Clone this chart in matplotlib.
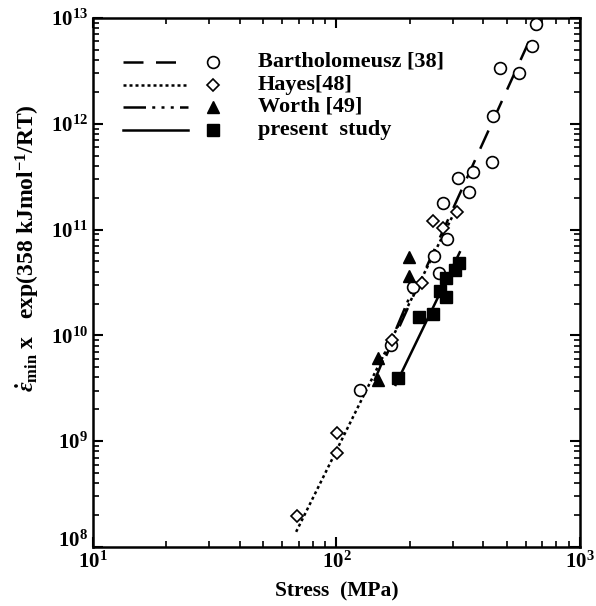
import matplotlib
matplotlib.use("Agg")
import matplotlib.pyplot as plt
from matplotlib.ticker import LogLocator, NullFormatter
from matplotlib.transforms import ScaledTranslation

plt.rcParams['font.family'] = ['Liberation Serif', 'DejaVu Serif']
plt.rcParams['font.weight'] = 'bold'
plt.rcParams['mathtext.fontset'] = 'custom'
plt.rcParams['mathtext.rm'] = 'Liberation Serif:bold'
plt.rcParams['mathtext.it'] = 'Liberation Serif:italic:bold'
plt.rcParams['mathtext.bf'] = 'Liberation Serif:bold'

# ---- data ----
barth_x = [659, 635, 469, 561, 440, 436, 364, 316, 350, 274, 284, 251, 264, 206, 167, 125]
barth_y = [8.8e12, 5.4e12, 3.4e12, 3.0e12, 1.19e12, 4.35e11, 3.5e11, 3.1e11, 2.27e11,
           1.78e11, 8.1e10, 5.6e10, 3.9e10, 2.87e10, 8.1e9, 3.05e9]
hayes_x = [313, 249, 274, 224, 169, 101, 101, 68.9]
hayes_y = [1.47e11, 1.21e11, 1.03e11, 3.13e10, 9.1e9, 1.2e9, 7.7e8, 1.97e8]
worth_x = [199, 199, 148, 148]
worth_y = [5.5e10, 3.64e10, 6.1e9, 3.8e9]
present_x = [318, 307, 282, 266, 282, 249, 218, 179]
present_y = [4.83e10, 4.15e10, 3.49e10, 2.63e10, 2.31e10, 1.59e10, 1.49e10, 3.95e9]

# fitted lines (end points)
barth_fit_x = [160, 690]
barth_fit_y = [6.4e9, 1.05e13]
hayes_fit_x = [68.3, 316]
hayes_fit_y = [1.39e8, 1.71e11]
worth_fit_x = [143, 212]
worth_fit_y = [3.7e9, 3.2e10]
present_fit_x = [175, 321]
present_fit_y = [3.4e9, 6.1e10]

labels = ["Bartholomeusz [38]", "Hayes[48]", "Worth [49]", "present  study"]

fig = plt.figure(figsize=(5.96, 6.06), dpi=100)
ax = fig.add_axes([0.156, 0.0974, 0.817, 0.873])
ax.set_xscale('log')
ax.set_yscale('log')
ax.set_xlim(10, 1000)
ax.set_ylim(1e8, 1e13)

lw = 1.8
dashed = (0, (8, 5))
dotted = (0, (1.2, 1.2))
dashdotdot = (0, (9, 2.5, 1.2, 2.5, 1.2, 2.5, 1.2, 2.5))

ax.plot(barth_fit_x, barth_fit_y, color='black', lw=lw, linestyle=dashed)
ax.plot(hayes_fit_x, hayes_fit_y, color='black', lw=lw, linestyle=dotted)
ax.plot(worth_fit_x, worth_fit_y, color='black', lw=lw, linestyle=dashdotdot)
ax.plot(present_fit_x, present_fit_y, color='black', lw=lw, linestyle='-')

ms = 8.5
ax.plot(barth_x, barth_y, 'o', mfc='white', mec='black', mew=1.2, ms=ms, linestyle='none', zorder=3)
ax.plot(hayes_x, hayes_y, 'D', mfc='white', mec='black', mew=1.2, ms=ms*0.72, linestyle='none', zorder=3)
ax.plot(worth_x, worth_y, '^', mfc='black', mec='black', ms=ms, linestyle='none', zorder=3)
ax.plot(present_x, present_y, 's', mfc='black', mec='black', ms=ms, linestyle='none', zorder=3)

# legend drawn in axes coordinates
rows_y = [0.917, 0.873, 0.832, 0.788]
styles = [dashed, dotted, dashdotdot, '-']
mk = [dict(marker='o', mfc='white', mec='black', mew=1.2, ms=ms),
      dict(marker='D', mfc='white', mec='black', mew=1.2, ms=ms*0.72),
      dict(marker='^', mfc='black', mec='black', ms=ms),
      dict(marker='s', mfc='black', mec='black', ms=ms)]
for yy, st, m, lab in zip(rows_y, styles, mk, labels):
    ax.plot([0.062, 0.195], [yy, yy], transform=ax.transAxes, color='black', lw=lw, linestyle=st)
    ax.plot([0.246], [yy], transform=ax.transAxes, linestyle='none', **m)
    ax.text(0.339, yy, lab, transform=ax.transAxes, fontsize=16, fontweight='bold',
            va='center', ha='left')

for sp in ax.spines.values():
    sp.set_linewidth(1.8)

ax.xaxis.set_major_locator(LogLocator(base=10, numticks=10))
ax.yaxis.set_major_locator(LogLocator(base=10, numticks=10))
ax.xaxis.set_minor_locator(LogLocator(base=10, subs=range(2, 10), numticks=20))
ax.yaxis.set_minor_locator(LogLocator(base=10, subs=range(2, 10), numticks=20))
ax.xaxis.set_minor_formatter(NullFormatter())
ax.yaxis.set_minor_formatter(NullFormatter())
ax.tick_params(which='both', direction='in', top=True, right=True, labelsize=15)
ax.tick_params(which='major', length=7, width=1.5)
ax.tick_params(which='minor', length=4, width=1.2)

ax.set_xlabel("Stress  (MPa)", fontsize=15.5, fontweight='bold', labelpad=6)
ax.set_ylabel(r"$\dot{\varepsilon}_{\rm min}$ x   exp(358 kJmol$^{-1}$/RT)", fontsize=17,
              fontweight='bold')
ax.yaxis.set_label_coords(-0.105, 0.565)

# lift the lowest y tick label (10^8) a little, as in the original
fig.canvas.draw()
for t in ax.yaxis.get_major_ticks():
    if abs(t.get_loc() - 1e8) < 1:
        t.label1.set_transform(t.label1.get_transform() +
                               ScaledTranslation(0, 6 / 72, fig.dpi_scale_trans))

fig.savefig("out.png", dpi=100)
